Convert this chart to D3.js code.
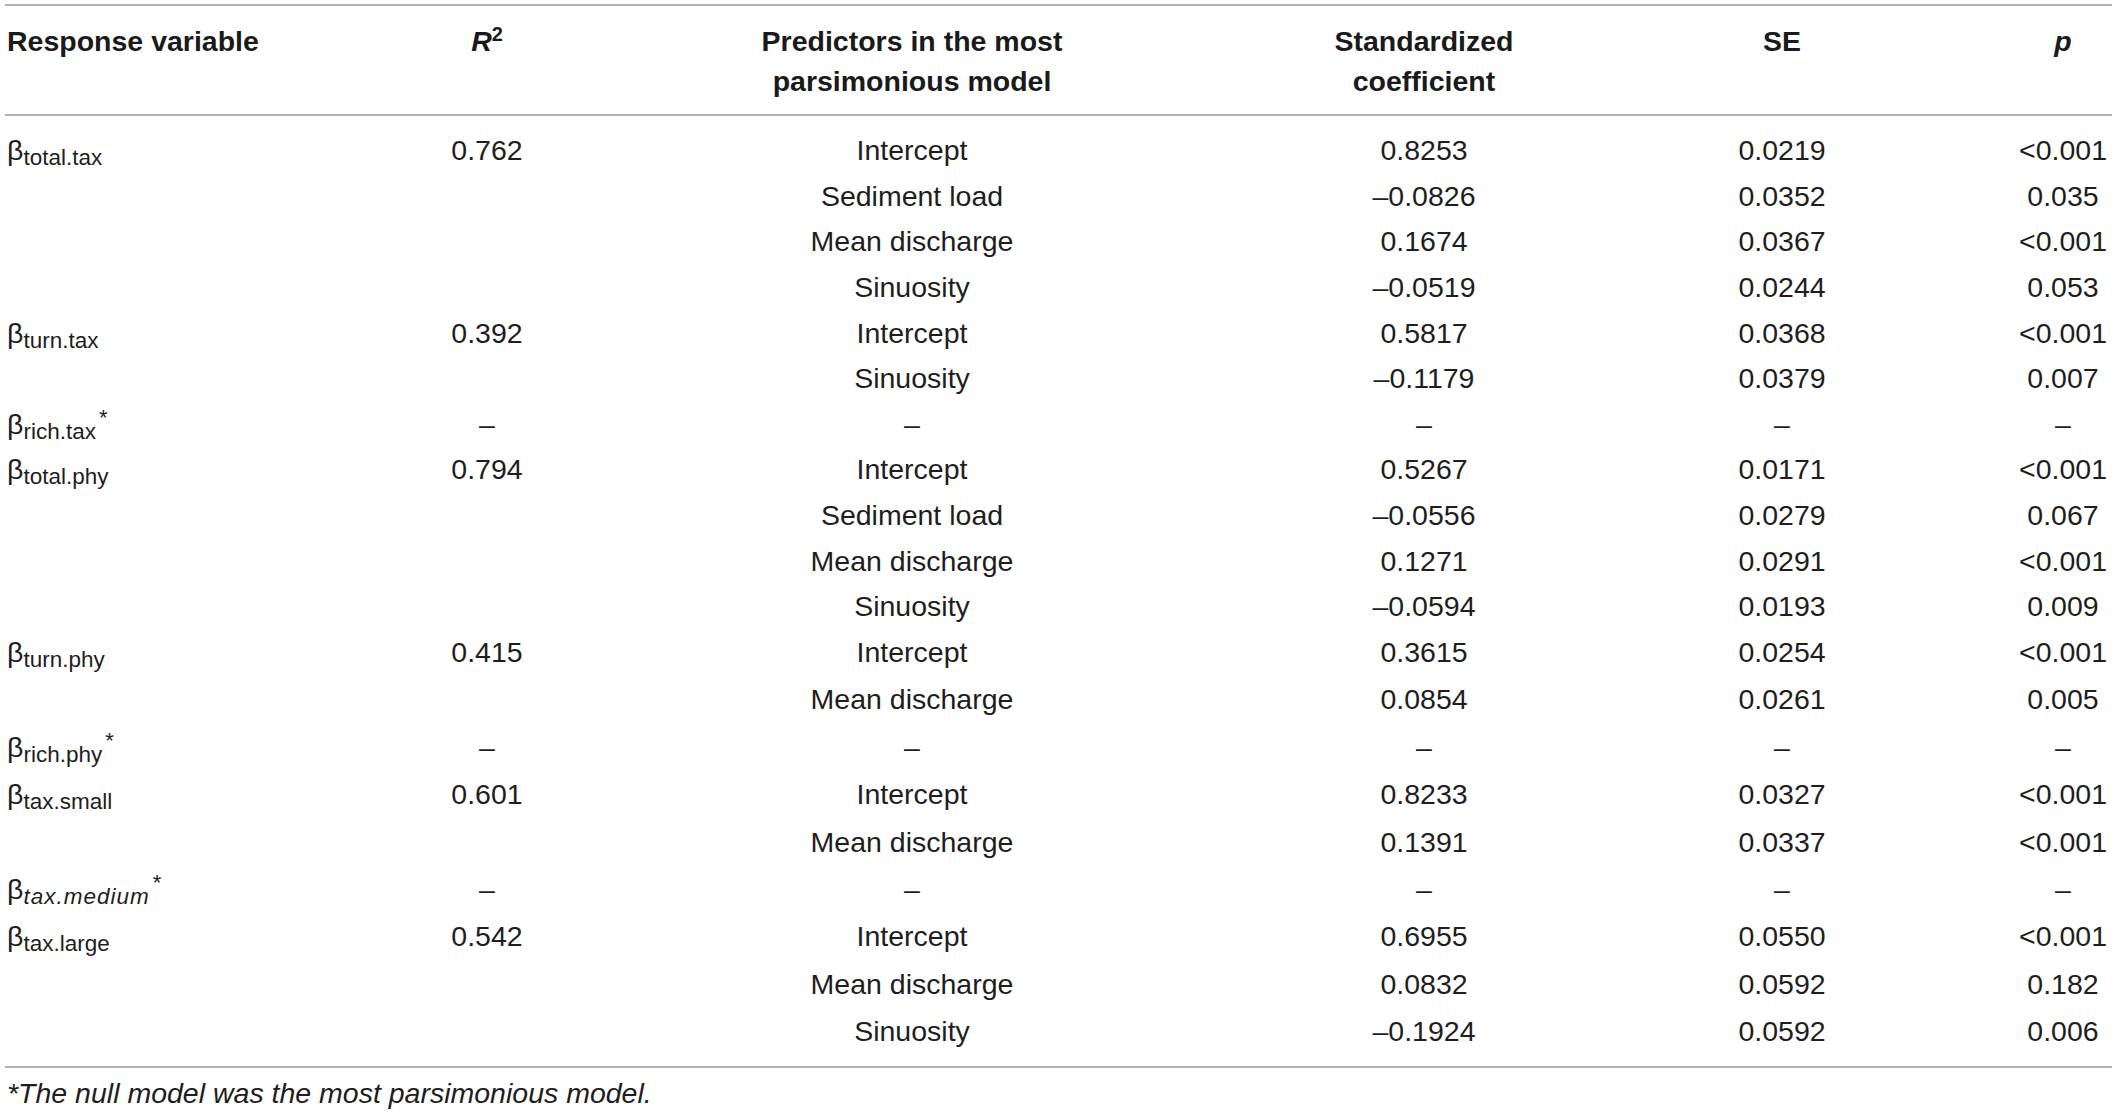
<!DOCTYPE html>
<html>
<head>
<meta charset="utf-8">
<script src="https://cdn.jsdelivr.net/npm/d3@7"></script>
<style>
  html, body { margin: 0; padding: 0; background: #ffffff; }
  svg { display: block; }
  text { font-family: "Liberation Sans", Arial, Helvetica, sans-serif; }
</style>
</head>
<body>
<svg id="chart" width="2117" height="1115"></svg>
<script>
// ---------- data ----------
const columns = ["resp", "r2", "pred", "coef", "se", "p"];
const headerLines = [
  ["Response variable"],
  ["R2"],
  ["Predictors in the most", "parsimonious model"],
  ["Standardized", "coefficient"],
  ["SE"],
  ["p"]
];
const responseVars = ["total.tax", "turn.tax", "rich.tax", "total.phy", "turn.phy", "rich.phy", "tax.small", "tax.medium", "tax.large"];
const responseItalic = [false, false, false, false, false, false, false, true, false];
const nullModel = [false, false, true, false, false, true, false, true, false];
const rSquared = ["0.762", "0.392", "–", "0.794", "0.415", "–", "0.601", "–", "0.542"];
const rowResponse = [0, 0, 0, 0, 1, 1, 2, 3, 3, 3, 3, 4, 4, 5, 6, 6, 7, 8, 8, 8];
const predictors = ["Intercept", "Sediment load", "Mean discharge", "Sinuosity", "Intercept", "Sinuosity", "–",
  "Intercept", "Sediment load", "Mean discharge", "Sinuosity", "Intercept", "Mean discharge", "–",
  "Intercept", "Mean discharge", "–", "Intercept", "Mean discharge", "Sinuosity"];
const coefficients = [0.8253, -0.0826, 0.1674, -0.0519, 0.5817, -0.1179, null,
  0.5267, -0.0556, 0.1271, -0.0594, 0.3615, 0.0854, null,
  0.8233, 0.1391, null, 0.6955, 0.0832, -0.1924];
const standardErrors = [0.0219, 0.0352, 0.0367, 0.0244, 0.0368, 0.0379, null,
  0.0171, 0.0279, 0.0291, 0.0193, 0.0254, 0.0261, null,
  0.0327, 0.0337, null, 0.0550, 0.0592, 0.0592];
const pValues = ["<0.001", "0.035", "<0.001", "0.053", "<0.001", "0.007", "–",
  "<0.001", "0.067", "<0.001", "0.009", "<0.001", "0.005", "–",
  "<0.001", "<0.001", "–", "<0.001", "0.182", "0.006"];
const footnote = "*The null model was the most parsimonious model.";

// ---------- layout ----------
const W = 2117, H = 1115;
const FS = 28.5;           // body font size
const textColor = "#1e1e1e";
const ruleColor = "#9a9a9a";

const svg = d3.select("#chart");
svg.append("rect").attr("width", W).attr("height", H).attr("fill", "#fff");

const x = d3.scaleOrdinal().domain(columns).range([7, 487, 912, 1424, 1782, 2063]);
const anchor = d3.scaleOrdinal().domain(columns).range(["start", "middle", "middle", "middle", "middle", "middle"]);
const y = d3.scaleLinear().domain([0, 11, 19]).range([150, 652, 1031]); // row centres
const rowIdx = d3.range(predictors.length);
const baseOff = 10; // centre -> baseline

const fmt = v => v === null ? "–" : d3.format(".4f")(v).replace(/[−-]/, "–");

// rules
const rules = [5, 115, 1067];
svg.selectAll("line.rule").data(rules).join("line")
  .attr("class", "rule")
  .attr("x1", 5).attr("x2", 2112)
  .attr("y1", d => d).attr("y2", d => d)
  .attr("stroke", ruleColor).attr("stroke-width", 1.6);

// header
const hdr = svg.append("g").attr("font-weight", "bold").attr("font-size", FS).attr("fill", "#1a1a1a");
columns.forEach((c, ci) => {
  headerLines[ci].forEach((line, li) => {
    const t = hdr.append("text")
      .attr("x", x(c)).attr("y", 51 + li * 40)
      .attr("text-anchor", anchor(c));
    if (c === "r2") {
      t.append("tspan").attr("font-style", "italic").text("R");
      t.append("tspan").attr("font-size", 20).attr("dy", -10).text("2");
    } else if (c === "p") {
      t.append("tspan").attr("font-style", "italic").text(line);
    } else {
      t.text(line);
    }
  });
});

const body = svg.append("g").attr("font-size", FS).attr("fill", textColor);

// response variable labels
const firstRow = responseVars.map((_, i) => rowResponse.indexOf(i));
responseVars.forEach((name, i) => {
  const t = body.append("text")
    .attr("x", x("resp"))
    .attr("y", y(firstRow[i]) + baseOff);
  t.append("tspan").text("β");
  t.append("tspan")
    .attr("font-size", 22.5)
    .attr("dy", 5)
    .attr("font-style", responseItalic[i] ? "italic" : null)
    .attr("letter-spacing", responseItalic[i] ? 1 : null)
    .text(name);
  if (nullModel[i]) {
    t.append("tspan").attr("font-size", 22).attr("dy", -14).attr("dx", 3).text("*");
  }
});

// R2 values
body.selectAll("text.r2").data(rSquared).join("text")
  .attr("class", "r2")
  .attr("x", x("r2"))
  .attr("y", (d, i) => y(firstRow[i]) + baseOff)
  .attr("text-anchor", "middle")
  .text(d => d);

// predictors
body.selectAll("text.pred").data(rowIdx).join("text")
  .attr("class", "pred")
  .attr("x", x("pred")).attr("y", i => y(i) + baseOff)
  .attr("text-anchor", "middle")
  .text(i => predictors[i]);

// coefficients
body.selectAll("text.coef").data(rowIdx).join("text")
  .attr("class", "coef")
  .attr("x", x("coef")).attr("y", i => y(i) + baseOff)
  .attr("text-anchor", "middle")
  .text(i => fmt(coefficients[i]));

// standard errors
body.selectAll("text.se").data(rowIdx).join("text")
  .attr("class", "se")
  .attr("x", x("se")).attr("y", i => y(i) + baseOff)
  .attr("text-anchor", "middle")
  .text(i => fmt(standardErrors[i]));

// p values
body.selectAll("text.p").data(rowIdx).join("text")
  .attr("class", "p")
  .attr("x", x("p")).attr("y", i => y(i) + baseOff)
  .attr("text-anchor", "middle")
  .text(i => pValues[i]);

// footnote
svg.append("text")
  .attr("x", 7).attr("y", 1103)
  .attr("font-size", FS).attr("font-style", "italic")
  .attr("fill", textColor)
  .text(footnote);
</script>
</body>
</html>
